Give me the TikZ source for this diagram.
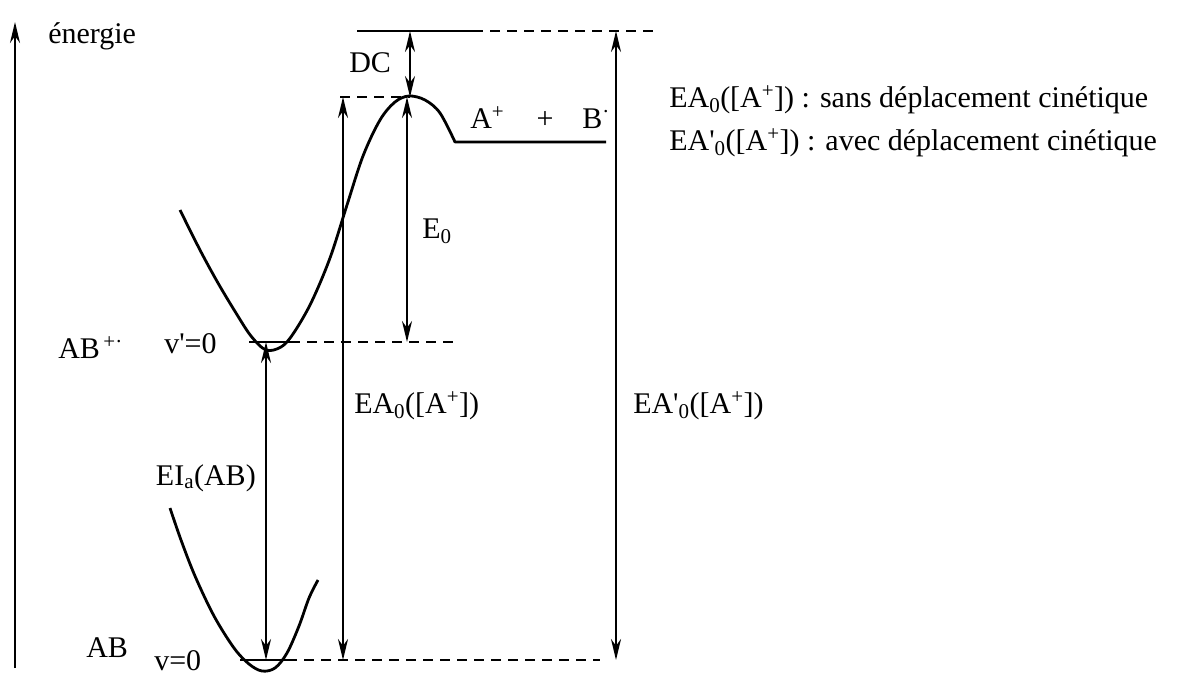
\documentclass[tikz,border=0pt]{standalone}
\usepackage{fontspec}
\setmainfont{Liberation Serif}
\usetikzlibrary{arrows.meta}
\begin{document}
\begin{tikzpicture}[x=1pt,y=-1pt,line width=2.5pt,
  dbl/.style={{Stealth[length=21pt,width=10pt]}-{Stealth[length=21pt,width=10pt]}},
  single/.style={-{Stealth[length=21pt,width=10pt]}},
  dsh/.style={dash pattern=on 10pt off 7pt},
  lbl/.style={inner sep=0pt,font=\fontsize{30}{36}\selectfont},
  curve/.style={line width=2.8pt,line join=round}]
\useasboundingbox (0,0) rectangle (1193,677);

% energy axis
\coordinate (ax0) at (15,668);
\coordinate (ax1) at (15,22);
\draw[single] (ax0) -- (ax1);
\node[lbl,anchor=base west] (energie) at (47,44) {énergie};

% level coordinates
\coordinate (top) at (410,31);
\coordinate (topL) at (357,31);
\coordinate (topM) at (473,31);
\coordinate (topR) at (660,31);
\coordinate (peak) at (410,97);
\coordinate (peakL) at (340,97);
\coordinate (vpL) at (249,342);
\coordinate (vpM) at (290,342);
\coordinate (vpR) at (455,342);
\coordinate (vL) at (240,660);
\coordinate (vM) at (287,660);
\coordinate (vR) at (600,660);

% levels
\draw (topL) -- (topM);
\draw[dsh] (topM) -- (topR);
\draw[dsh] (peakL) -- (peak);
\draw (vpL) -- (vpM);
\draw[dsh] (vpM) -- (vpR);
\draw (vL) -- (vM);
\draw[dsh] (vM) -- (vR);

% upper potential curve with barrier
\draw[curve] plot[smooth,tension=0.55] coordinates {(180,210) (200,250) (218,283) (236,313) (251,336) (266,350) (281,347) (293,334) (311,303) (330,258) (347,205) (363,156) (380,120) (395,102) (409,96) (425,100) (440,113) (455,142)} -- (606,142);

% lower potential curve
\draw[curve] plot[smooth,tension=0.55] coordinates {(170,508) (181,540) (195,576) (214,616) (234,648) (249,664) (262,671) (275,668) (287,653) (299,626) (309,598) (318,580)};

% arrows
\coordinate (eiB) at (266,660);
\coordinate (eiT) at (266,342);
\draw[dbl] (eiB) -- (eiT);
\coordinate (eaB) at (343,660);
\coordinate (eaT) at (343,97);
\draw[dbl] (eaB) -- (eaT);
\coordinate (e0T) at (407,97);
\coordinate (e0B) at (407,342);
\draw[dbl] (e0T) -- (e0B);
\coordinate (dcB) at (410,97);
\draw[dbl] (top) -- (dcB);
\coordinate (epB) at (616,660);
\coordinate (epT) at (616,31);
\draw[dbl] (epB) -- (epT);

% labels
\node[lbl,anchor=base west] (dc) at (348,73) {DC};
\node[lbl,anchor=base west] (Ap) at (469,128) {A\textsuperscript{+}};
\node[lbl,anchor=base] (plus) at (545,128) {+};
\node[lbl,anchor=base west] (Bd) at (581,128) {B\textsuperscript{·}};
\node[lbl,anchor=base west] (E0) at (421,238) {E\textsubscript{0}};
\node[lbl,anchor=base west] (ABp) at (57,358) {AB\textsuperscript{\,+·}};
\node[lbl,anchor=base west] (vp) at (163,353) {v\textquotesingle=0};
\node[lbl,anchor=base west] (EA0) at (353,413) {EA\textsubscript{0}([A\textsuperscript{+}])};
\node[lbl,anchor=base west] (EAp) at (632,413) {EA\textquotesingle\textsubscript{0}([A\textsuperscript{+}])};
\node[lbl,anchor=base east] (EIa) at (257,485) {EI\textsubscript{a}(AB)};
\node[lbl,anchor=base west] (AB) at (85,657) {AB};
\node[lbl,anchor=base west] (v0) at (153,670) {v=0};
\node[lbl,anchor=base west] (leg1) at (668,107) {EA\textsubscript{0}([A\textsuperscript{+}]) : sans déplacement cinétique};
\node[lbl,anchor=base west] (leg2) at (668,150) {EA\textquotesingle\textsubscript{0}([A\textsuperscript{+}]) : avec déplacement cinétique};
\end{tikzpicture}
\end{document}
